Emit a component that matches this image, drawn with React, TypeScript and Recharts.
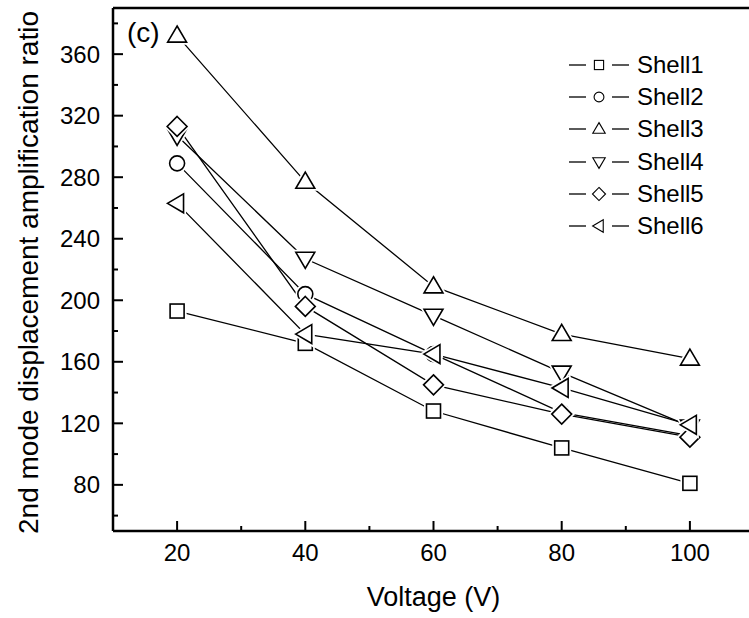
import React from 'react'
import { LineChart, Line, XAxis, YAxis, Legend } from 'recharts'

const voltages = [20, 40, 60, 80, 100]
const shell1 = [193, 172, 128, 104, 81]
const shell2 = [289, 204, 165, 127, 112]
const shell3 = [372, 277, 209, 178, 162]
const shell4 = [307, 227, 190, 153, 118]
const shell5 = [313, 196, 145, 126, 111]
const shell6 = [263, 178, 165, 143, 119]

const seriesNames = ['Shell1', 'Shell2', 'Shell3', 'Shell4', 'Shell5', 'Shell6']
const seriesShapes = ['square', 'circle', 'up', 'down', 'diamond', 'left']

const xTicks = [20, 30, 40, 50, 60, 70, 80, 90, 100]
const yTicks = [60, 80, 100, 120, 140, 160, 180, 200, 220, 240, 260, 280, 300, 320, 340, 360, 380]

const font = '"Liberation Sans", Arial, sans-serif'

const data = voltages.map((v, i) => ({
  v,
  s1: shell1[i],
  s2: shell2[i],
  s3: shell3[i],
  s4: shell4[i],
  s5: shell5[i],
  s6: shell6[i],
}))

function Shape({ cx, cy, shape, r, ...rest }: any) {
  if (shape === 'square') return <rect x={cx - r} y={cy - r} width={2 * r} height={2 * r} {...rest} />
  if (shape === 'circle') return <circle cx={cx} cy={cy} r={r * 1.07} {...rest} />
  if (shape === 'diamond') {
    const d = r * 1.42
    return <polygon points={`${cx},${cy - d} ${cx + d},${cy} ${cx},${cy + d} ${cx - d},${cy}`} {...rest} />
  }
  const w = r * 1.35
  const h = r * 1.15
  if (shape === 'up')
    return <polygon points={`${cx},${cy - h * 1.2} ${cx + w},${cy + h * 0.8} ${cx - w},${cy + h * 0.8}`} {...rest} />
  if (shape === 'down')
    return <polygon points={`${cx},${cy + h * 1.2} ${cx + w},${cy - h * 0.8} ${cx - w},${cy - h * 0.8}`} {...rest} />
  return <polygon points={`${cx - h * 1.2},${cy} ${cx + h * 0.8},${cy - w} ${cx + h * 0.8},${cy + w}`} {...rest} />
}

// white halo under the symbol gives the small gap Origin leaves between line and marker
function Marker({ cx, cy, shape, r, sw, halo }: any) {
  return (
    <g>
      {halo && <Shape cx={cx} cy={cy} shape={shape} r={r} fill="#fff" stroke="#fff" strokeWidth={halo} />}
      <Shape cx={cx} cy={cy} shape={shape} r={r} fill="#fff" stroke="#000" strokeWidth={sw} />
    </g>
  )
}

// tick lines point into the plot; dir tells which way that is
function XTick(props: any) {
  const { x, y, payload, dir, showLabel } = props
  const major = payload.value % 20 === 0
  const len = major ? 10 : 5
  return (
    <g>
      <line x1={x} x2={x} y1={y} y2={y - dir * len} stroke="#000" strokeWidth={2} />
      {showLabel && major && (
        <text x={x} y={y + 13} dy="0.71em" textAnchor="middle" fontSize={24} fontFamily={font} fill="#000">
          {payload.value}
        </text>
      )}
    </g>
  )
}

function YTick(props: any) {
  const { x, y, payload, dir, showLabel } = props
  const major = payload.value % 40 === 0
  const len = major ? 10 : 5
  return (
    <g>
      <line x1={x} x2={x + dir * len} y1={y} y2={y} stroke="#000" strokeWidth={2} />
      {showLabel && major && (
        <text x={x - 13} y={y} dy="0.355em" textAnchor="end" fontSize={24} fontFamily={font} fill="#000">
          {payload.value}
        </text>
      )}
    </g>
  )
}

function LegendBox() {
  return (
    <div style={{ fontFamily: font, fontSize: 24, color: '#000' }}>
      {seriesNames.map((name, i) => (
        <div key={name} style={{ display: 'flex', alignItems: 'center', height: 32.2 }}>
          <svg width={60} height={32} style={{ display: 'block' }}>
            <line x1={0} x2={17} y1={16} y2={16} stroke="#000" strokeWidth={1.3} />
            <line x1={43} x2={60} y1={16} y2={16} stroke="#000" strokeWidth={1.3} />
            <Marker cx={30} cy={16} shape={seriesShapes[i]} r={4.6} sw={1.1} />
          </svg>
          <span style={{ marginLeft: 8, lineHeight: '32px' }}>{name}</span>
        </div>
      ))}
    </div>
  )
}

const axisStyle = { stroke: '#000', strokeWidth: 2.5 }
// 0 falls back to the defaults, so use a tiny value
const tiny = 0.001

export default function App() {
  const keys = ['s1', 's2', 's3', 's4', 's5', 's6']
  return (
    <div style={{ position: 'absolute', left: 0, top: 0, width: 749, height: 618, overflow: 'hidden', background: '#fff' }}>
      <LineChart width={755} height={618} data={data} margin={{ top: 7, right: 0, left: 0, bottom: 0 }}>
        <XAxis
          dataKey="v"
          type="number"
          domain={[10, 110]}
          ticks={xTicks}
          interval={0}
          height={87}
          tickSize={tiny}
          tickMargin={tiny}
          tickLine={false}
          axisLine={axisStyle}
          tick={(p: any) => <XTick {...p} dir={1} showLabel />}
          label={(p: any) => (
            <text
              x={p.viewBox.x + p.viewBox.width / 2}
              y={p.viewBox.y + 75}
              textAnchor="middle"
              fontSize={27}
              fontFamily={font}
              fill="#000"
            >
              Voltage (V)
            </text>
          )}
        />
        <XAxis
          xAxisId="top"
          orientation="top"
          type="number"
          domain={[10, 110]}
          ticks={xTicks}
          interval={0}
          height={1}
          tickSize={tiny}
          tickMargin={tiny}
          tickLine={false}
          axisLine={axisStyle}
          tick={(p: any) => <XTick {...p} dir={-1} />}
          label={(p: any) => (
            <text x={p.viewBox.x + 14} y={p.viewBox.y + 35} fontSize={28} fontFamily={font} fill="#000">
              (c)
            </text>
          )}
        />
        <YAxis
          type="number"
          domain={[50, 390]}
          ticks={yTicks}
          interval={0}
          width={113}
          tickSize={tiny}
          tickMargin={tiny}
          tickLine={false}
          axisLine={axisStyle}
          tick={(p: any) => <YTick {...p} dir={1} showLabel />}
          label={(p: any) => {
            const cx = 28
            const cy = p.viewBox.y + p.viewBox.height / 2 + 3
            return (
              <text
                x={cx}
                y={cy}
                transform={`rotate(-90 ${cx} ${cy})`}
                textAnchor="middle"
                dominantBaseline="central"
                fontSize={28}
                fontFamily={font}
                fill="#000"
              >
                2nd mode displacement amplification ratio
              </text>
            )
          }}
        />
        <YAxis
          yAxisId="right"
          orientation="right"
          type="number"
          domain={[50, 390]}
          ticks={yTicks}
          interval={0}
          width={1}
          tickSize={tiny}
          tickMargin={tiny}
          tickLine={false}
          axisLine={axisStyle}
          tick={(p: any) => <YTick {...p} dir={-1} />}
        />
        <Legend
          layout="vertical"
          align="center"
          verticalAlign="middle"
          content={() => <LegendBox />}
          wrapperStyle={{ left: 569, top: 49, width: 180, height: 200 }}
        />
        {keys.map((k, i) => (
          <Line
            key={k}
            dataKey={k}
            name={seriesNames[i]}
            type="linear"
            stroke="#000"
            strokeWidth={1.3}
            isAnimationActive={false}
            dot={(p: any) => (
              <Marker key={`${k}-${p.index}`} cx={p.cx} cy={p.cy} shape={seriesShapes[i]} r={7} sw={1.6} halo={5} />
            )}
          />
        ))}
      </LineChart>
    </div>
  )
}
